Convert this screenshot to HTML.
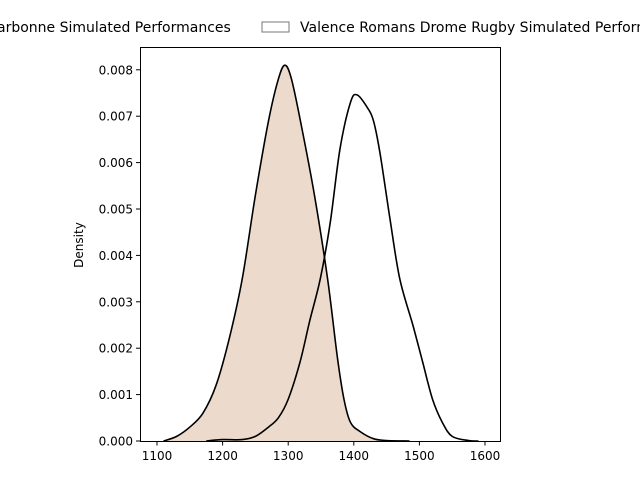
<!DOCTYPE html>
<html><head><meta charset="utf-8"><style>
body{margin:0;background:#fff;}
svg{display:block;font-family:"DejaVu Sans","Liberation Sans",sans-serif;}
</style></head><body>
<svg id="chart" width="640" height="480">
<rect width="640" height="480" fill="#fff"/>
<g id="plot"></g>
<rect x="140.5" y="47.5" width="360" height="394" fill="none" stroke="#000" stroke-width="1"/>
<g id="axes"></g>
<text x="83" y="245" font-size="12" text-anchor="middle" transform="rotate(-90 83 245)">Density</text>
<g>
<g>
<text x="-3" y="32" font-size="14">arbonne Simulated Performances</text>
</g>
<g>
<rect x="262" y="22" width="27" height="10" fill="#fff" stroke="#777"/>
<text x="300" y="32" font-size="14">Valence Romans Drome Rugby Simulated Performances</text>
</g>
</g>
</svg>
<script>
const narbX=[1110,1130,1150,1170,1190,1210,1230,1250,1270,1285,1295,1305,1320,1340,1360,1375,1385,1395,1410,1430,1450,1485];
const narbY=[0,0.0001,0.0003,0.0006,0.0012,0.0022,0.0035,0.0053,0.0069,0.0078,0.0081,0.0078,0.0068,0.0053,0.0035,0.0018,0.0009,0.0004,0.0002,0.00005,0.00001,0];
const valX=[1175,1200,1230,1250,1270,1285,1300,1318,1333,1349,1364,1379,1395,1405,1420,1430,1440,1455,1470,1490,1505,1520,1535,1550,1575,1590];
const valY=[0,0.00003,0.00003,0.0001,0.0003,0.0005,0.0009,0.0017,0.0026,0.0035,0.0047,0.0063,0.0073,0.00746,0.0072,0.0069,0.0062,0.0048,0.0035,0.0025,0.0017,0.0009,0.0004,0.0001,0.00001,0];
const xTicks=[1100,1200,1300,1400,1500,1600];
const yTicks=[0,0.001,0.002,0.003,0.004,0.005,0.006,0.007,0.008];
const NS="http://www.w3.org/2000/svg";
const sx=v=>157+(v-1100)*0.656;
const sy=v=>441-v*46400;
function pathD(xs,ys){
  const p=xs.map((x,i)=>[sx(x),sy(ys[i])]);
  let d="M"+p[0][0]+","+p[0][1];
  for(let i=0;i<p.length-1;i++){
    const p0=p[Math.max(0,i-1)],p1=p[i],p2=p[i+1],p3=p[Math.min(p.length-1,i+2)];
    const c1=[p1[0]+(p2[0]-p0[0])/6,p1[1]+(p2[1]-p0[1])/6];
    const c2=[p2[0]-(p3[0]-p1[0])/6,p2[1]-(p3[1]-p1[1])/6];
    d+=" C"+c1+" "+c2+" "+p2;
  }
  return d;
}
const plot=document.getElementById('plot');
const fill=document.createElementNS(NS,'path');
fill.setAttribute('d',pathD(narbX,narbY)+" L"+sx(narbX[narbX.length-1])+","+sy(0)+" L"+sx(narbX[0])+","+sy(0)+"Z");
fill.setAttribute('fill','#ecdbcc');


plot.appendChild(fill);
[[narbX,narbY,'narbonne-density-line'],[valX,valY,'valence-density-line']].forEach(([xs,ys,n])=>{
  const l=document.createElementNS(NS,'path');
  l.setAttribute('d',pathD(xs,ys));
  l.setAttribute('fill','none');l.setAttribute('stroke','#000');l.setAttribute('stroke-width','1.6');
  
  
  plot.appendChild(l);
});
const axes=document.getElementById('axes');
xTicks.forEach(t=>{
  const x=sx(t);
  const l=document.createElementNS(NS,'line');
  l.setAttribute('x1',x);l.setAttribute('x2',x);l.setAttribute('y1',441.5);l.setAttribute('y2',445.5);l.setAttribute('stroke','#000');
  
  
  axes.appendChild(l);
  const tx=document.createElementNS(NS,'text');
  tx.setAttribute('x',x);tx.setAttribute('y',460);tx.setAttribute('font-size','12');tx.setAttribute('text-anchor','middle');
  tx.textContent=t;
  
  
  axes.appendChild(tx);
});
yTicks.forEach(t=>{
  const y=sy(t);
  const l=document.createElementNS(NS,'line');
  l.setAttribute('x1',136);l.setAttribute('x2',140.5);l.setAttribute('y1',y);l.setAttribute('y2',y);l.setAttribute('stroke','#000');
  
  
  axes.appendChild(l);
  const tx=document.createElementNS(NS,'text');
  tx.setAttribute('x',133);tx.setAttribute('y',y+4.5);tx.setAttribute('font-size','12');tx.setAttribute('text-anchor','end');
  tx.textContent=t.toFixed(3);
  
  
  axes.appendChild(tx);
});
</script>
</body></html>
